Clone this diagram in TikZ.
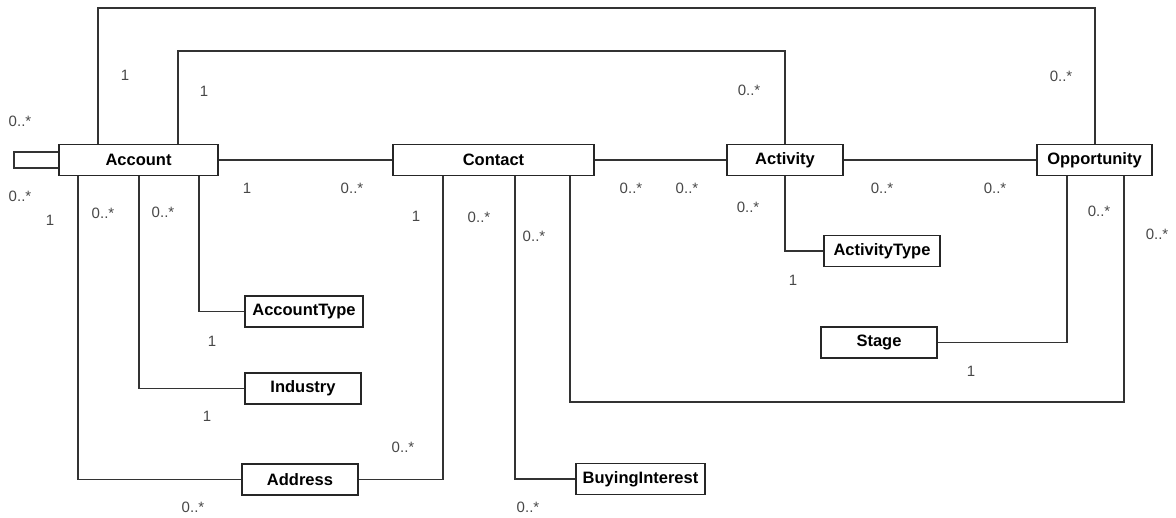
\documentclass[tikz,border=0pt]{standalone}
\usepackage{fontspec}
\setmainfont{Liberation Sans}
\begin{document}
\begin{tikzpicture}[x=1pt,y=-1pt,
  cls/.style={draw=black!85, line width=1.3pt, fill=white,
    font=\bfseries\fontsize{16.5}{18}\selectfont, inner sep=0pt, minimum height=31pt},
  link/.style={draw=black!80, line width=1.3pt},
  mult/.style={font=\fontsize{15}{17}\selectfont, text=black!72, inner sep=0pt}]
\useasboundingbox (0,0) rectangle (1176,518);

% classes
\node[cls, minimum width=159pt] (acc) at (138.5,160) {Account};
\node[cls, minimum width=201pt] (con) at (493.5,160) {Contact};
\node[cls, minimum width=116pt] (act) at (785,160) {Activity};
\node[cls, minimum width=115pt] (opp) at (1094.5,160) {Opportunity};
\node[cls, minimum width=116pt] (atype) at (882,251) {ActivityType};
\node[cls, minimum width=116pt] (stage) at (879,342.5) {Stage};
\node[cls, minimum width=118pt] (acctype) at (304,311.5) {AccountType};
\node[cls, minimum width=116pt] (ind) at (303,388.5) {Industry};
\node[cls, minimum width=116pt] (addr) at (300,479.5) {Address};
\node[cls, minimum width=129pt] (buy) at (640.5,479) {BuyingInterest};

% corner points for the orthogonal routes
\coordinate (loopL) at (14,160);
\coordinate (top1) at (98,8);
\coordinate (top2) at (178,51);
\coordinate (accA) at (78,0);
\coordinate (accI) at (139,0);
\coordinate (accT) at (199,0);
\coordinate (conA) at (443,0);
\coordinate (conB) at (515,0);
\coordinate (conO) at (570,402);
\coordinate (actT) at (785,0);
\coordinate (oppS) at (1067,0);
\coordinate (oppC) at (1124,0);
\coordinate (oppT) at (1095,0);

% self association on Account
\draw[link] (acc.west |- 0,152) -- (loopL |- 0,152) -- (loopL |- 0,168) -- (acc.west |- 0,168);

% horizontal associations
\draw[link] (acc.east) -- (con.west);
\draw[link] (con.east) -- (act.west);
\draw[link] (act.east) -- (opp.west);

% upper routes
\draw[link] (acc.north -| top1) -- (top1) -- (top1 -| oppT) -- (opp.north -| oppT);
\draw[link] (acc.north -| top2) -- (top2) -- (top2 -| actT) -- (act.north);

% Account below
\draw[link] (acc.south -| accT) -- (accT |- acctype.west) -- (acctype.west);
\draw[link] (acc.south -| accI) -- (accI |- ind.west) -- (ind.west);
\draw[link] (acc.south -| accA) -- (accA |- addr.west) -- (addr.west);

% Contact below
\draw[link] (addr.east) -- (addr.east -| conA) -- (con.south -| conA);
\draw[link] (con.south -| conB) -- (conB |- buy.west) -- (buy.west);
\draw[link] (con.south -| conO) -- (conO) -- (conO -| oppC) -- (opp.south -| oppC);

% Activity and Opportunity below
\draw[link] (act.south) -- (act.south |- atype.west) -- (atype.west);
\draw[link] (stage.east) -- (stage.east -| oppS) -- (opp.south -| oppS);

% multiplicities
\node[mult] (m1) at (125,75) {1};
\node[mult] (m2) at (204,91) {1};
\node[mult] (m3) at (20,121) {0..*};
\node[mult] (m4) at (20,196) {0..*};
\node[mult] (m5) at (50,220) {1};
\node[mult] (m6) at (103,213) {0..*};
\node[mult] (m7) at (163,212) {0..*};
\node[mult] (m8) at (247,188) {1};
\node[mult] (m9) at (352,188) {0..*};
\node[mult] (m10) at (416,216) {1};
\node[mult] (m11) at (479,217) {0..*};
\node[mult] (m12) at (534,236) {0..*};
\node[mult] (m13) at (631,188) {0..*};
\node[mult] (m14) at (687,188) {0..*};
\node[mult] (m15) at (748,207) {0..*};
\node[mult] (m16) at (749,90) {0..*};
\node[mult] (m17) at (882,188) {0..*};
\node[mult] (m18) at (995,188) {0..*};
\node[mult] (m19) at (1061,76) {0..*};
\node[mult] (m20) at (1099,211) {0..*};
\node[mult] (m21) at (1157,234) {0..*};
\node[mult] (m22) at (793,280) {1};
\node[mult] (m23) at (971,371) {1};
\node[mult] (m24) at (212,341) {1};
\node[mult] (m25) at (207,416) {1};
\node[mult] (m26) at (403,447) {0..*};
\node[mult] (m27) at (193,507) {0..*};
\node[mult] (m28) at (528,507) {0..*};
\end{tikzpicture}
\end{document}
